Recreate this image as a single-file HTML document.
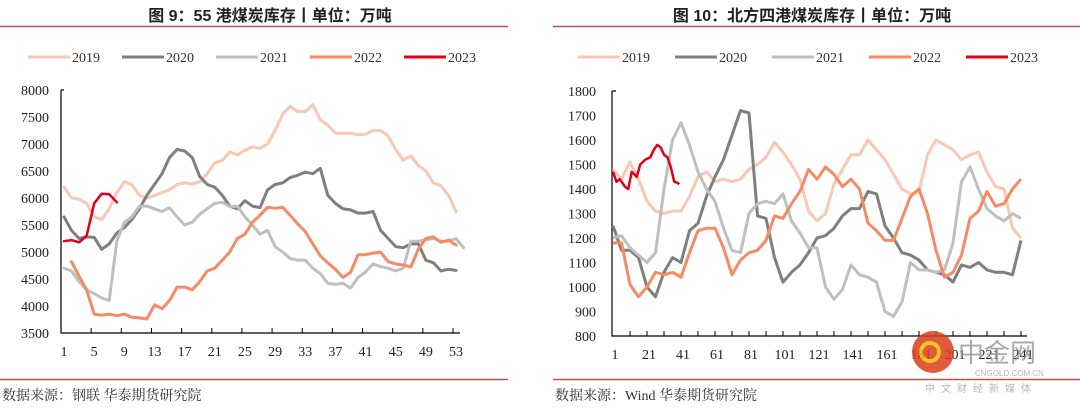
<!DOCTYPE html>
<html><head><meta charset="utf-8"><style>
body{margin:0;background:#fff;width:1080px;height:405px;overflow:hidden}
svg text{font-family:"Liberation Serif","Noto Serif CJK SC",serif}
</style></head><body>
<svg id="s" width="1080" height="405" xmlns="http://www.w3.org/2000/svg">
<text x="270" y="21" text-anchor="middle" font-size="16" font-weight="bold" fill="#222" style="font-family:'Liberation Sans','Noto Sans CJK SC',sans-serif">图 9：55 港煤炭库存丨单位：万吨</text>
<text x="812" y="21" text-anchor="middle" font-size="16" font-weight="bold" fill="#222" style="font-family:'Liberation Sans','Noto Sans CJK SC',sans-serif">图 10：北方四港煤炭库存丨单位：万吨</text>
<line x1="0" y1="26.5" x2="508" y2="26.5" stroke="#b85450" stroke-width="1.5"/>
<line x1="553" y1="26.5" x2="1080" y2="26.5" stroke="#b85450" stroke-width="1.5"/>
<line x1="0" y1="379.5" x2="508" y2="379.5" stroke="#b85450" stroke-width="1.5"/>
<line x1="553" y1="379.5" x2="1080" y2="379.5" stroke="#b85450" stroke-width="1.5"/>
<text x="2" y="400" font-size="14" fill="#333">数据来源：钢联  华泰期货研究院</text>
<text x="555" y="400" font-size="14" fill="#333">数据来源：Wind  华泰期货研究院</text>
<g id="L"></g>
<g id="R"></g>
<g opacity="0.85">
<circle cx="933" cy="352" r="21" fill="#d9401c"/>
<circle cx="930" cy="352" r="9" fill="none" stroke="#f5b800" stroke-width="4"/>
<text x="958" y="362" font-size="26" fill="#999" style="font-family:'Noto Sans CJK SC',sans-serif">中金网</text>
<text x="975" y="376" font-size="8" fill="#aaa" style="font-family:'Liberation Sans',sans-serif">CNGOLD.COM.CN</text>
<text x="925" y="392" font-size="10" fill="#aaa" letter-spacing="6" style="font-family:'Noto Sans CJK SC',sans-serif">中文财经新媒体</text>
</g>
</svg>
<script>
const years=['2019','2020','2021','2022','2023'];
const colors=['#f9c8b2','#7f7f7f','#bfbfbf','#f58a64','#e0001b'];
// Left chart (weekly)
const leftYTicks=[3500,4000,4500,5000,5500,6000,6500,7000,7500,8000];
const leftXTicks=[1,5,9,13,17,21,25,29,33,37,41,45,49,53];
const l2019=[6200,6000,5980,5900,5650,5600,5800,6100,6300,6250,6050,6000,6050,6100,6150,6250,6280,6260,6300,6450,6650,6700,6850,6800,6880,6950,6920,7000,7250,7550,7700,7600,7600,7730,7450,7350,7200,7200,7200,7170,7180,7250,7250,7150,6900,6700,6780,6600,6500,6280,6230,6050,5750];
const l2020=[5650,5400,5250,5280,5270,5050,5150,5350,5450,5600,5800,6050,6250,6450,6750,6900,6870,6750,6400,6250,6200,6050,5850,5800,5950,5850,5820,6150,6250,6280,6380,6420,6480,6450,6550,6050,5900,5800,5780,5720,5720,5750,5400,5250,5100,5080,5150,5150,4850,4800,4650,4680,4660];
const l2021=[4700,4650,4450,4300,4230,4150,4100,5200,5550,5650,5850,5850,5800,5750,5820,5650,5500,5550,5700,5800,5900,5920,5840,5850,5650,5500,5330,5400,5100,5000,4880,4850,4850,4700,4600,4420,4400,4420,4330,4530,4630,4780,4730,4700,4650,4700,5200,5200,5230,5250,5200,5200,5250,5080];
const l2022=[null,4820,4550,4300,3850,3830,3850,3820,3850,3790,3780,3760,4020,3950,4100,4350,4350,4300,4450,4650,4700,4850,5000,5250,5330,5550,5680,5830,5810,5830,5680,5520,5380,5150,4930,4800,4680,4530,4620,4950,4950,4980,5000,4820,4780,4760,4720,5050,5250,5280,5180,5220,5130];
const l2023=[5200,5220,5180,5300,5900,6080,6070,5920];
// Right chart (daily, sampled every 5 days)
const rightYTicks=[800,900,1000,1100,1200,1300,1400,1500,1600,1700,1800];
const rightXLabels=[1,21,41,61,81,101,121,141,161,181,201,221,241];
const rStep=5;
const r2019=[1480,1440,1510,1440,1350,1310,1300,1310,1310,1370,1450,1470,1430,1440,1430,1440,1480,1500,1530,1590,1550,1500,1440,1310,1270,1300,1420,1480,1540,1540,1600,1560,1520,1460,1400,1380,1390,1540,1600,1580,1560,1520,1540,1550,1470,1410,1400,1240,1200];
const r2020=[1250,1150,1150,1120,1000,960,1060,1120,1100,1230,1260,1370,1450,1520,1620,1720,1710,1290,1280,1120,1020,1060,1090,1140,1200,1210,1240,1290,1320,1320,1390,1380,1250,1200,1140,1130,1110,1070,1060,1050,1020,1090,1080,1100,1070,1060,1060,1050,1190];
const r2021=[1200,1210,1160,1130,1100,1140,1400,1600,1670,1580,1470,1400,1350,1240,1150,1140,1300,1340,1350,1340,1380,1270,1220,1160,1160,1000,950,990,1090,1050,1040,1020,900,880,940,1100,1070,1070,1060,1070,1180,1430,1490,1400,1320,1290,1270,1300,1280];
const r2022=[1180,1180,1010,960,1000,1060,1050,1060,1040,1140,1230,1240,1240,1160,1050,1110,1140,1150,1190,1290,1280,1340,1390,1480,1440,1490,1460,1410,1440,1400,1260,1230,1190,1190,1280,1370,1400,1300,1150,1040,1060,1130,1280,1310,1390,1330,1340,1400,1440];
const r2023Days=[1,3,5,8,10,12,15,17,20,23,25,27,29,31,33,35,37,39,40];
const r2023=[1470,1430,1440,1410,1400,1470,1450,1500,1520,1530,1560,1580,1570,1540,1530,1490,1430,1425,1420];

const NS='http://www.w3.org/2000/svg';
function mk(tag,attrs,parent){const e=document.createElementNS(NS,tag);for(const k in attrs)e.setAttribute(k,attrs[k]);parent.appendChild(e);return e;}

function legend(g,x0,y,gap){
  years.forEach((yr,i)=>{
    const x=x0+i*gap;
    const ln=mk('line',{x1:x,y1:y,x2:x+42,y2:y,stroke:colors[i],'stroke-width':3},g);
    
    
    const t=mk('text',{x:x+44,y:y+5,'font-size':14,fill:'#333'},g);
    t.textContent=yr;
    
    
  });
}
function pathFrom(xs,vals,X,Y){let d='',pen=false;vals.forEach((v,i)=>{if(v==null){pen=false;return;}d+=(pen?'L':'M')+X(xs[i]).toFixed(1)+' '+Y(v).toFixed(1);pen=true;});return d;}

// LEFT
(function(){
  const g=document.getElementById('L');
  const x0=61,x1=460,yTop=90,yBot=333;
  const Y=v=>yBot-(v-3500)/4500*(yBot-yTop);
  const X=w=>64+(w-1)*(456-64)/52;
  legend(g,28,57,94);
  leftYTicks.forEach(v=>{const t=mk('text',{x:49,y:Y(v)+5,'font-size':14,'text-anchor':'end',fill:'#222'},g);t.textContent=v;
    
    });
  const ax=mk('path',{d:`M${x0} ${yTop}H${x0+3}M${x0} ${yTop}V${yBot}H${x1}`,stroke:'#000','stroke-width':1.2,fill:'none'},g);
  
  
  for(let w=5;w<=53;w+=4){mk('line',{x1:X(w)-3,y1:yBot,x2:X(w)-3,y2:yBot-5,stroke:'#000'},g);}
  leftXTicks.forEach(w=>{const t=mk('text',{x:X(w),y:yBot+23,'font-size':14,'text-anchor':'middle',fill:'#222'},g);t.textContent=w;
    
    });
  const series=[l2019,l2020,l2021,l2022,l2023];
  series.forEach((s,i)=>{
    const xs=s.map((_,k)=>k+1);
    const p=mk('path',{d:pathFrom(xs,s,X,Y),stroke:colors[i],'stroke-width':i==4?2.5:3,fill:'none','stroke-linejoin':'round','stroke-linecap':'round'},g);
    
    
  });
})();

// RIGHT
(function(){
  const g=document.getElementById('R');
  const x0=612,x1=1027,yTop=91,yBot=336;
  const Y=v=>yBot-(v-800)/1000*(yBot-yTop);
  const X=d=>613+(d-1)*1.7;
  legend(g,578,57,97);
  rightYTicks.forEach(v=>{const t=mk('text',{x:596,y:Y(v)+5,'font-size':14,'text-anchor':'end',fill:'#222'},g);t.textContent=v;
    
    });
  const ax=mk('path',{d:`M${x0} ${yTop}H${x0+4}M${x0} ${yTop}V${yBot}H${x1}`,stroke:'#000','stroke-width':1.2,fill:'none'},g);
  
  
  for(let d=11;d<=241;d+=10){mk('line',{x1:X(d),y1:yBot,x2:X(d),y2:yBot-5,stroke:'#000'},g);}
  rightXLabels.forEach(d=>{const t=mk('text',{x:X(d)+2,y:yBot+23,'font-size':14,'text-anchor':'middle',fill:'#222'},g);t.textContent=d;
    
    });
  const series=[r2019,r2020,r2021,r2022];
  series.forEach((s,i)=>{
    const xs=s.map((_,k)=>1+k*rStep);
    const p=mk('path',{d:pathFrom(xs,s,X,Y),stroke:colors[i],'stroke-width':3,fill:'none','stroke-linejoin':'round'},g);
    
    
  });
  const p=mk('path',{d:pathFrom(r2023Days,r2023,X,Y),stroke:colors[4],'stroke-width':2.5,fill:'none','stroke-linejoin':'round'},g);
  
  
})();
</script>
</body></html>
